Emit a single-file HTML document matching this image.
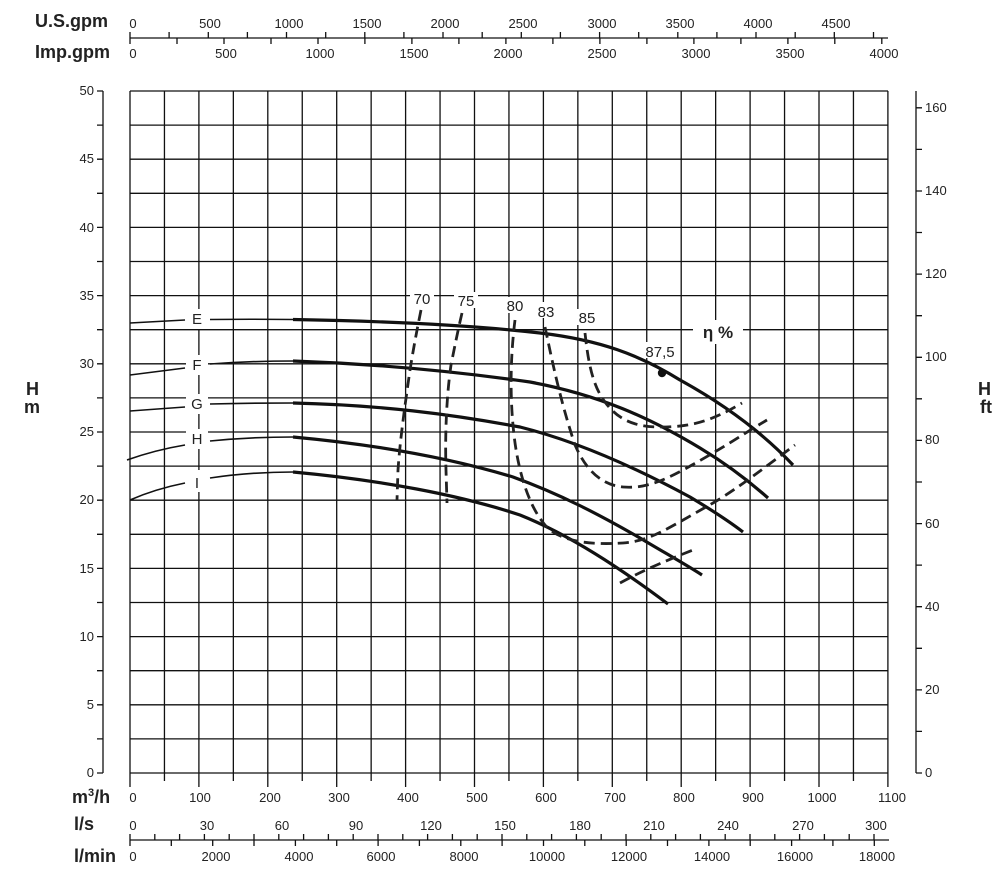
<!DOCTYPE html>
<html><head><meta charset="utf-8"><style>
html,body{margin:0;padding:0;background:#fff}
svg{display:block}
text{font-family:"Liberation Sans",Arial,sans-serif;fill:#222}
.t{font-size:13px}
.b{font-size:18px;font-weight:bold}
</style></head><body>
<svg width="999" height="881" viewBox="0 0 999 881" xmlns="http://www.w3.org/2000/svg">
<g stroke="#111" stroke-width="1.3" fill="none">
<path d="M130 91V787M164.45 91V781M198.9 91V787M233.35 91V781M267.8 91V787M302.25 91V781M336.7 91V787M371.15 91V781M405.6 91V787M440.05 91V781M474.5 91V787M508.95 91V781M543.4 91V787M577.85 91V781M612.3 91V787M646.75 91V781M681.2 91V787M715.65 91V781M750.1 91V787M784.55 91V781M819 91V787M853.45 91V781M887.9 91V787"/>
<path d="M130 773H888M130 738.9H888M130 704.8H888M130 670.7H888M130 636.6H888M130 602.5H888M130 568.4H888M130 534.3H888M130 500.2H888M130 466.1H888M130 432H888M130 397.9H888M130 363.8H888M130 329.7H888M130 295.6H888M130 261.5H888M130 227.4H888M130 193.3H888M130 159.2H888M130 125.1H888M130 91H888"/>
<path d="M103 91V773M97 773H103M97 738.9H103M97 704.8H103M97 670.7H103M97 636.6H103M97 602.5H103M97 568.4H103M97 534.3H103M97 500.2H103M97 466.1H103M97 432H103M97 397.9H103M97 363.8H103M97 329.7H103M97 295.6H103M97 261.5H103M97 227.4H103M97 193.3H103M97 159.2H103M97 125.1H103M97 91H103"/>
<path d="M916 91V773M916 773H922M916 731.4H922M916 689.9H922M916 648.3H922M916 606.7H922M916 565.1H922M916 523.6H922M916 482H922M916 440.4H922M916 398.8H922M916 357.3H922M916 315.7H922M916 274.1H922M916 232.5H922M916 191H922M916 149.4H922M916 107.8H922"/>
<path d="M130 38H888"/>
<path d="M130 32V38M169.1 32V38M208.3 32V38M247.4 32V38M286.5 32V38M325.7 32V38M364.8 32V38M403.9 32V38M443 32V38M482.2 32V38M521.3 32V38M560.4 32V38M599.6 32V38M638.7 32V38M677.8 32V38M716.9 32V38M756 32V38M795.2 32V38M834.3 32V38M873.5 32V38"/>
<path d="M130 38V44M177 38V44M224 38V44M271 38V44M318 38V44M364.9 38V44M411.9 38V44M458.9 38V44M505.9 38V44M552.9 38V44M599.9 38V44M646.9 38V44M693.9 38V44M740.9 38V44M787.9 38V44M834.8 38V44M881.8 38V44"/>
<path d="M130 840H889"/>
<path d="M130 834V840M154.8 834V840M179.6 834V840M204.4 834V840M229.2 834V840M254 834V840M278.8 834V840M303.6 834V840M328.4 834V840M353.2 834V840M378 834V840M402.8 834V840M427.6 834V840M452.4 834V840M477.2 834V840M502 834V840M526.8 834V840M551.6 834V840M576.4 834V840M601.2 834V840M626 834V840M650.8 834V840M675.6 834V840M700.4 834V840M725.2 834V840M750 834V840M774.8 834V840M799.6 834V840M824.4 834V840M849.2 834V840M874 834V840"/>
<path d="M130 840V846M171.3 840V846M212.7 840V846M254 840V846M295.4 840V846M336.7 840V846M378.1 840V846M419.4 840V846M460.8 840V846M502.1 840V846M543.5 840V846M584.8 840V846M626.2 840V846M667.5 840V846M708.9 840V846M750.2 840V846M791.6 840V846M832.9 840V846M874.3 840V846"/>
</g>

<g fill="#fff">
<rect x="186" y="309" width="22" height="20"/>
<rect x="186" y="355" width="22" height="20"/>
<rect x="186" y="394" width="22" height="20"/>
<rect x="186" y="429" width="22" height="20"/>
<rect x="186" y="470" width="22" height="22"/>
<rect x="410" y="290" width="24" height="16"/>
<rect x="454" y="292" width="24" height="16"/>
<rect x="503" y="297" width="24" height="16"/>
<rect x="534" y="302" width="24" height="16"/>
<rect x="575" y="309" width="24" height="16"/>
<rect x="643" y="342" width="36" height="16"/>
<rect x="693" y="320" width="50" height="24"/>
</g>

<g stroke="#111" stroke-width="1.6" fill="none">
<path d="M130 323 L185 320"/><path d="M210 319.5 Q250 319 293 319.5"/>
<path d="M130 375 L185 368"/><path d="M210 364 Q250 361 293 361"/>
<path d="M130 411 L185 407"/><path d="M210 404 Q250 403 293 403"/>
<path d="M127 460 Q155 450 185 445"/><path d="M210 441 Q250 437 293 437"/>
<path d="M130 500 Q155 489 185 483"/><path d="M210 478 Q250 472 293 472"/>
</g>
<g stroke="#111" stroke-width="3.2" fill="none">
<path d="M293 319.5 C380 321 470 325 540 333 C600 340 640 355 680 380 C720 402 760 430 793 465"/>
<path d="M293 361 C380 364 460 372 530 382 C600 395 650 418 700 448 C730 466 750 482 768 498"/>
<path d="M293 403 C380 405 450 414 520 427 C580 442 640 470 690 497 C715 512 730 522 743 532"/>
<path d="M293 437 C380 445 450 458 513 477 C560 494 600 515 640 538 C665 553 685 564 702 575"/>
<path d="M293 472 C380 480 460 495 520 515 C570 535 620 568 668 604"/>
</g>
<circle cx="662" cy="373" r="4.2" fill="#111"/>

<g stroke="#222" stroke-width="2.8" fill="none" stroke-dasharray="11,6">
<path d="M421 310 C417 330 414 345 410 370 C405 405 400 440 398 470 L397 500"/>
<path d="M462 313 C458 330 455 345 451 365 C446 400 445 440 446 470 L447 503"/>
<path d="M515 320 C510 360 510 400 514 435 C518 470 528 505 545 525 C560 542 590 545 623 543 C650 541 665 530 713 503 C740 487 765 467 795 445"/>
<path d="M545 327 C552 360 560 400 575 445 C585 468 600 485 623 487 C650 489 670 478 713 453 C735 440 750 430 767 420"/>
<path d="M585 333 C588 360 592 385 605 402 C618 420 635 427 660 427 C690 427 710 422 742 403"/>
<path d="M620 583 C640 572 660 563 693 550"/>
</g>

<g style="font-size:15px" text-anchor="middle">
<text x="197" y="324">E</text>
<text x="197" y="370">F</text>
<text x="197" y="409">G</text>
<text x="197" y="444">H</text>
<text x="197" y="488">I</text>
</g>
<g style="font-size:15px" text-anchor="middle">
<text x="422" y="304">70</text>
<text x="466" y="306">75</text>
<text x="515" y="311">80</text>
<text x="546" y="317">83</text>
<text x="587" y="323">85</text>
<text x="660" y="357">87,5</text>
<text x="718" y="338" style="font-size:17px;font-weight:bold">η %</text>
</g>

<text class="b" x="35" y="27">U.S.gpm</text>
<text class="b" x="35" y="58">Imp.gpm</text>
<text class="b" x="72" y="803">m<tspan style="font-size:11px" dy="-7">3</tspan><tspan dy="7">/h</tspan></text>
<text class="b" x="74" y="830">l/s</text>
<text class="b" x="74" y="862">l/min</text>
<text class="b" x="26" y="395">H</text>
<text class="b" x="24" y="413">m</text>
<text class="b" x="978" y="395">H</text>
<text class="b" x="980" y="413">ft</text>

<g class="t" text-anchor="middle">
<text x="133" y="28">0</text><text x="210" y="28">500</text><text x="289" y="28">1000</text><text x="367" y="28">1500</text><text x="445" y="28">2000</text><text x="523" y="28">2500</text><text x="602" y="28">3000</text><text x="680" y="28">3500</text><text x="758" y="28">4000</text><text x="836" y="28">4500</text>
<text x="133" y="58">0</text><text x="226" y="58">500</text><text x="320" y="58">1000</text><text x="414" y="58">1500</text><text x="508" y="58">2000</text><text x="602" y="58">2500</text><text x="696" y="58">3000</text><text x="790" y="58">3500</text><text x="884" y="58">4000</text>
<text x="133" y="802">0</text><text x="200" y="802">100</text><text x="270" y="802">200</text><text x="339" y="802">300</text><text x="408" y="802">400</text><text x="477" y="802">500</text><text x="546" y="802">600</text><text x="615" y="802">700</text><text x="684" y="802">800</text><text x="753" y="802">900</text><text x="822" y="802">1000</text><text x="892" y="802">1100</text>
<text x="133" y="830">0</text><text x="207" y="830">30</text><text x="282" y="830">60</text><text x="356" y="830">90</text><text x="431" y="830">120</text><text x="505" y="830">150</text><text x="580" y="830">180</text><text x="654" y="830">210</text><text x="728" y="830">240</text><text x="803" y="830">270</text><text x="876" y="830">300</text>
<text x="133" y="861">0</text><text x="216" y="861">2000</text><text x="299" y="861">4000</text><text x="381" y="861">6000</text><text x="464" y="861">8000</text><text x="547" y="861">10000</text><text x="629" y="861">12000</text><text x="712" y="861">14000</text><text x="795" y="861">16000</text><text x="877" y="861">18000</text>
</g>
<g class="t" text-anchor="end">
<text x="94" y="777">0</text><text x="94" y="709">5</text><text x="94" y="641">10</text><text x="94" y="573">15</text><text x="94" y="504">20</text><text x="94" y="436">25</text><text x="94" y="368">30</text><text x="94" y="300">35</text><text x="94" y="232">40</text><text x="94" y="163">45</text><text x="94" y="95">50</text>
</g>
<g class="t">
<text x="925" y="777">0</text><text x="925" y="694">20</text><text x="925" y="611">40</text><text x="925" y="528">60</text><text x="925" y="444">80</text><text x="925" y="361">100</text><text x="925" y="278">120</text><text x="925" y="195">140</text><text x="925" y="112">160</text>
</g>
</svg>
</body></html>
